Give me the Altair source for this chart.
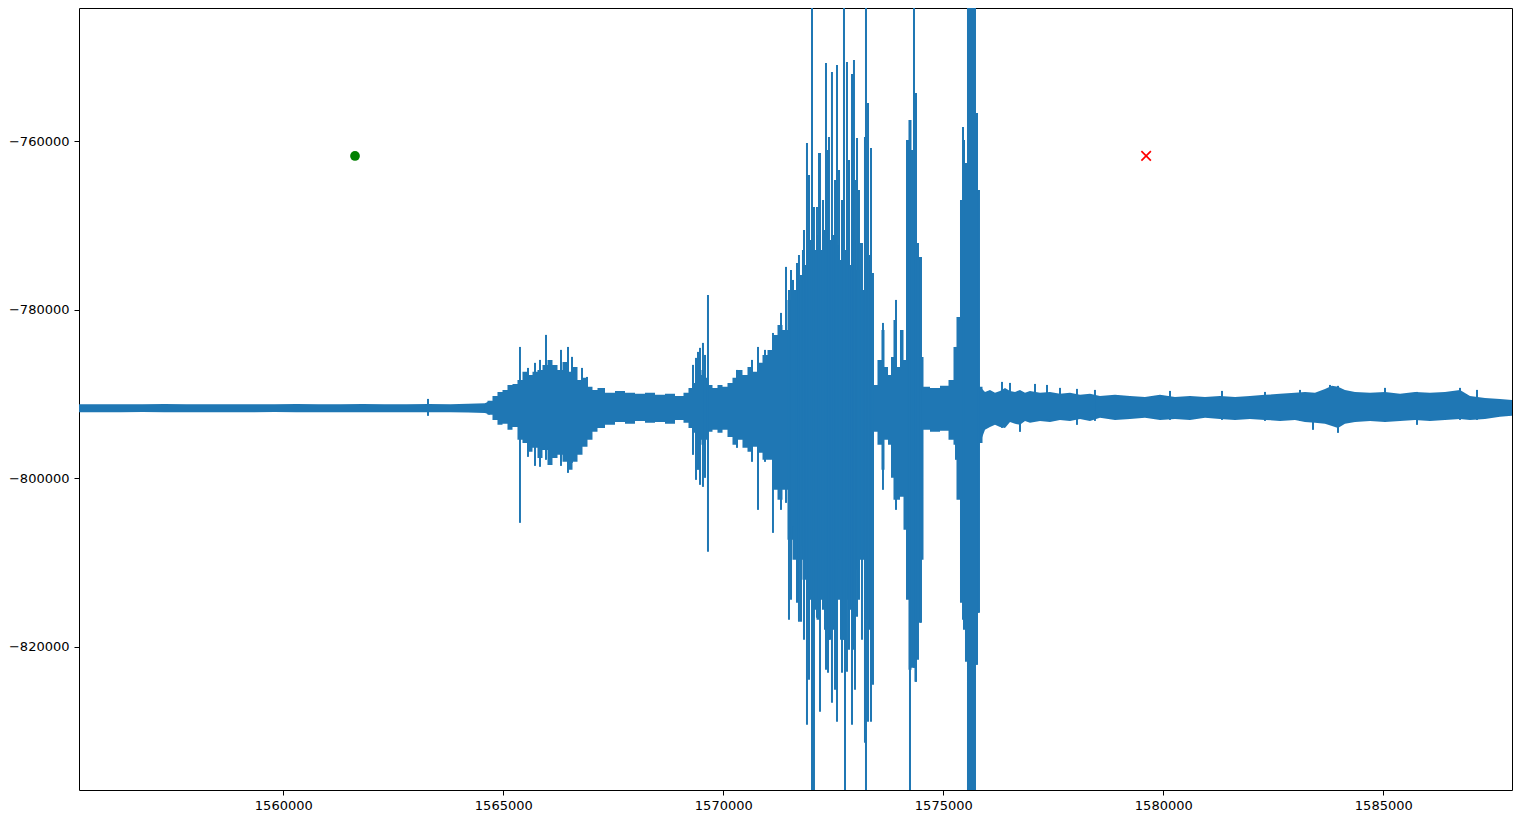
import altair as alt
import pandas as pd

# ---- waveform envelope (body of the trace) ----
env_x = [
    1555300, 1555800, 1556300, 1556800, 1557300, 1557800, 1558300, 1558800, 1559300, 1559800,
    1560300, 1560800, 1561300, 1561800, 1562300, 1562800, 1563300, 1563800, 1564200, 1564584,
    1564698, 1564811, 1564925, 1565039, 1565152, 1565266, 1565379, 1565493, 1565607, 1565720,
    1565834, 1565948, 1566061, 1566175, 1566289, 1566402, 1566516, 1566630, 1566743, 1566857,
    1566970, 1567084, 1567198, 1567425, 1567652, 1567879, 1568107, 1568334, 1568561, 1568789,
    1569016, 1569175, 1569243, 1569357, 1569470, 1569538, 1569584, 1569698, 1569811, 1569925,
    1570039, 1570152, 1570266, 1570379, 1570493, 1570607, 1570720, 1570834, 1570948, 1571061,
    1571175, 1571289, 1571402, 1571516, 1571630, 1571743, 1571857, 1571925, 1572016, 1572084,
    1572152, 1572243, 1572334, 1572425, 1572516, 1572607, 1572698, 1572789, 1572880, 1572970,
    1573061, 1573152, 1573243, 1573334, 1573402, 1573448, 1573561, 1573629, 1573698, 1573789,
    1573834, 1573902, 1573970, 1574061, 1574130, 1574175, 1574243, 1574311, 1574379, 1574425,
    1574470, 1574516, 1574584, 1574811, 1575039, 1575198, 1575266, 1575334, 1575425, 1575470,
    1575516, 1575561, 1575720, 1575766, 1575789, 1575834, 1575948, 1576061, 1576175, 1576289,
    1576402, 1576516, 1576630, 1576743, 1576857, 1576970, 1577198, 1577425, 1577652, 1577879,
    1578107, 1578334, 1578561, 1578902, 1579243, 1579584, 1579925, 1580266, 1580607, 1580948,
    1581289, 1581630, 1581970, 1582311, 1582652, 1582993, 1583220, 1583448, 1583675, 1583834,
    1583970, 1584129, 1584357, 1584698, 1585039, 1585380, 1585721, 1586061, 1586402, 1586743,
    1586970, 1587311, 1587652, 1588100,
]
env_hi = [
    -791200, -791200, -791220, -791200, -791180, -791200, -791220, -791200, -791200, -791210,
    -791180, -791200, -791210, -791190, -791200, -791200, -791180, -791200, -791150, -791100,
    -790810, -790220, -789750, -789510, -788920, -788800, -788320, -787370, -787730, -787370,
    -787140, -786540, -785950, -786540, -787140, -786190, -787370, -786780, -788320, -788080,
    -789150, -789510, -789270, -789860, -789630, -789860, -789980, -789860, -790100, -789980,
    -790220, -789860, -789270, -788680, -787730, -787140, -788080, -788920, -789270, -788920,
    -789150, -788680, -788080, -787140, -787730, -786780, -787370, -786300, -785360, -784760,
    -782980, -781800, -782390, -778830, -777640, -776460, -774680, -772900, -771710, -772900,
    -771120, -772900, -770520, -771710, -771120, -772300, -774080, -772900, -774680, -771710,
    -775270, -777640, -772900, -773490, -777640, -788920, -785950, -782390, -786780, -787730,
    -785590, -781200, -786780, -782390, -785950, -759850, -757470, -761030, -754270, -772070,
    -773730, -785590, -789150, -789270, -789030, -788320, -784410, -780850, -766960, -759850,
    -762570, -740000, -740000, -756640, -765780, -789150, -789750, -789510, -789860, -789630,
    -789270, -789630, -789750, -789510, -789860, -789630, -789860, -789750, -789980, -789860,
    -790100, -789980, -790220, -790100, -790220, -790340, -790100, -790340, -790220, -790340,
    -790220, -790340, -790220, -790100, -789980, -789860, -789750, -789860, -789390, -789030,
    -789150, -789510, -789750, -789860, -789750, -789980, -789750, -789860, -789750, -789510,
    -790220, -790460, -790580, -790810,
]
env_lo = [
    -792150, -792160, -792150, -792140, -792150, -792170, -792150, -792160, -792150, -792140,
    -792150, -792160, -792150, -792150, -792170, -792150, -792160, -792150, -792200, -792250,
    -792470, -793070, -793660, -793540, -794250, -793900, -795440, -795800, -796860, -796390,
    -797580, -796630, -798410, -797580, -797220, -798050, -799000, -798050, -797220, -796270,
    -795440, -794490, -794020, -793660, -793310, -793540, -793190, -793420, -793310, -793540,
    -793070, -793420, -794020, -794610, -795440, -796030, -795440, -794490, -794250, -794610,
    -794250, -795090, -796030, -795440, -796390, -796860, -796270, -796980, -797810, -797810,
    -801370, -802560, -801370, -807310, -809680, -809680, -812050, -813240, -814430, -815610,
    -816800, -814430, -817980, -819170, -817980, -814430, -819170, -814430, -815610, -817980,
    -810870, -809680, -816800, -817980, -815610, -794490, -796030, -799000, -795440, -796030,
    -799950, -802560, -802560, -802200, -806120, -814430, -822730, -822490, -824150, -821540,
    -817150, -809680, -794250, -794490, -794370, -795440, -796030, -802560, -814780, -817980,
    -821540, -845000, -845000, -822140, -815970, -795800, -794250, -793900, -793660, -793900,
    -794020, -793310, -793540, -793660, -793190, -793420, -793190, -793310, -793070, -793190,
    -792950, -793190, -792830, -793070, -792950, -792830, -793070, -792950, -793070, -792830,
    -792950, -793070, -792950, -793070, -793190, -793070, -793310, -793420, -793540, -793780,
    -794020, -793540, -793310, -793190, -793310, -793190, -793070, -793190, -793070, -792950,
    -793070, -792950, -792710, -792470,
]

# ---- isolated swings of the trace ----
spike_x = [
    1563289, 1565379, 1565561, 1565720, 1565834, 1565970, 1566311, 1566470, 1566561, 1566789,
    1566902, 1569311, 1569380, 1569425, 1569470, 1569538, 1569584, 1569652, 1570311, 1570652,
    1570789, 1570948, 1571129, 1571311, 1571425, 1571493, 1571539, 1571584, 1571675, 1571720,
    1571766, 1571811, 1571834, 1571902, 1571948, 1572016, 1572061, 1572129, 1572175, 1572198,
    1572266, 1572334, 1572380, 1572402, 1572470, 1572539, 1572584, 1572630, 1572698, 1572743,
    1572766, 1572811, 1572834, 1572857, 1572925, 1572970, 1572993, 1573039, 1573084, 1573130,
    1573152, 1573220, 1573243, 1573289, 1573357, 1573402, 1573629, 1573925, 1574198, 1574243,
    1574334, 1574379, 1574493, 1575289, 1575448, 1575516, 1575766, 1575811, 1576334, 1576516,
    1576743, 1577084, 1577357, 1577652, 1578038, 1578447, 1580152, 1581334, 1582311, 1583107,
    1583402, 1583788, 1583970, 1585039, 1585766, 1586743, 1587130,
]
spike_hi = [
    -790580, -784410, -786900, -786300, -785950, -782980, -784760, -784410, -785590, -786900,
    -787970, -786540, -785710, -785000, -784520, -783930, -785360, -778240, -787140, -785950,
    -784410, -784760, -782750, -780370, -774910, -777640, -775270, -776460, -774440, -773490,
    -775860, -772900, -770520, -760200, -764000, -740000, -767800, -767800, -761390, -761390,
    -766960, -750710, -761030, -759490, -751780, -764590, -750950, -763410, -766960, -740000,
    -772900, -750590, -766960, -762220, -752010, -750350, -764590, -759610, -765780, -772070,
    -772070, -759490, -740000, -755460, -760800, -775630, -781560, -778830, -759850, -757470,
    -740000, -754270, -773730, -784410, -758300, -762570, -756640, -765780, -788560, -788680,
    -789750, -788800, -788920, -789270, -789390, -789510, -789630, -789630, -789750, -789510,
    -789980, -788920, -789030, -789270, -789750, -789270, -789510,
]
spike_lo = [
    -792590, -805290, -797460, -798530, -798640, -797810, -798530, -799360, -798170, -796150,
    -795200, -797220, -800190, -799000, -800780, -801020, -799950, -808730, -796390, -798050,
    -803750, -798050, -806480, -803750, -802920, -816800, -814430, -805760, -814780, -817040,
    -817040, -808140, -819170, -829260, -823920, -845000, -845000, -816560, -814430, -827710,
    -815610, -822730, -823090, -819170, -826650, -825100, -828900, -809680, -823090, -819170,
    -845000, -822970, -811820, -820360, -829260, -820360, -825100, -816440, -814430, -808730,
    -819170, -831390, -845000, -828900, -828900, -824510, -801370, -803750, -811220, -845000,
    -822490, -824150, -817150, -797810, -816800, -821780, -822140, -815970, -794020, -793310,
    -794490, -793190, -793070, -793070, -793660, -793190, -793070, -793070, -793190, -793190,
    -794250, -793540, -794610, -793310, -793660, -793070, -793070,
]

# ---- markers ----
start_x = [1561630]
start_y = [-761740]
end_x = [1579610]
end_y = [-761740]

x_ticks = [1560000, 1565000, 1570000, 1575000, 1580000, 1585000]
y_ticks = [-820000, -800000, -780000, -760000]

env = pd.DataFrame({"x": env_x, "hi": env_hi, "lo": env_lo})
# quiet stretches drawn smoothly, active stretches drawn as vertical strokes
calm_before = env[env["x"] <= 1564698]
calm_after = env[env["x"] >= 1575834]
active = env[(env["x"] >= 1564584) & (env["x"] <= 1575948)]
spikes = pd.DataFrame({"x": spike_x, "hi": spike_hi, "lo": spike_lo})
start = pd.DataFrame({"x": start_x, "y": start_y})
end = pd.DataFrame({"x": end_x, "y": end_y})

xs = alt.Scale(domain=[1555357, 1587925], nice=False, zero=False)
ys = alt.Scale(domain=[-837000, -744180], nice=False, zero=False)

LINE = "#1f77b4"
FONT = "DejaVu Sans"

x_axis = alt.Axis(values=x_ticks, format="d", title=None, grid=False, domain=False,
                  tickColor="black", tickSize=5, tickWidth=1, labelFont=FONT,
                  labelFontSize=13, labelColor="black", labelPadding=4)
y_axis = alt.Axis(values=y_ticks, format="d", title=None, grid=False, domain=False,
                  tickColor="black", tickSize=5, tickWidth=1, labelFont=FONT,
                  labelFontSize=13, labelColor="black", labelPadding=5)


def band(df, interp, with_axes=False):
    enc_x = alt.X("x:Q", scale=xs, axis=x_axis) if with_axes else alt.X("x:Q", scale=xs)
    enc_y = alt.Y("hi:Q", scale=ys, axis=y_axis) if with_axes else alt.Y("hi:Q", scale=ys)
    return alt.Chart(df).mark_area(color=LINE, clip=True, interpolate=interp, opacity=1).encode(
        x=enc_x, y=enc_y, y2="lo:Q")


body_a = band(calm_before, "linear", with_axes=True)
body_b = band(active, "step")
body_c = band(calm_after, "linear")

swings = alt.Chart(spikes).mark_rule(color=LINE, strokeWidth=2, clip=True).encode(
    x=alt.X("x:Q", scale=xs),
    y=alt.Y("hi:Q", scale=ys),
    y2="lo:Q",
)

start_pt = alt.Chart(start).mark_point(shape="circle", filled=True, color="green",
                                       size=95, opacity=1).encode(
    x=alt.X("x:Q", scale=xs), y=alt.Y("y:Q", scale=ys))

end_pt = alt.Chart(end).mark_point(shape="M-1,-1L1,1M-1,1L1,-1", filled=False, color="red",
                                   size=90, strokeWidth=1.7, opacity=1).encode(
    x=alt.X("x:Q", scale=xs), y=alt.Y("y:Q", scale=ys))

chart = alt.layer(body_a, body_b, body_c, swings, start_pt, end_pt).properties(
    width=1433,
    height=782,
    autosize=alt.AutoSizeParams(type="none"),
    padding={"left": 71, "top": 0, "right": 2, "bottom": 24},
    background="white",
).configure_view(stroke="black", strokeWidth=1)

chart.save("out.html", embed_options={"renderer": "svg", "actions": False})
